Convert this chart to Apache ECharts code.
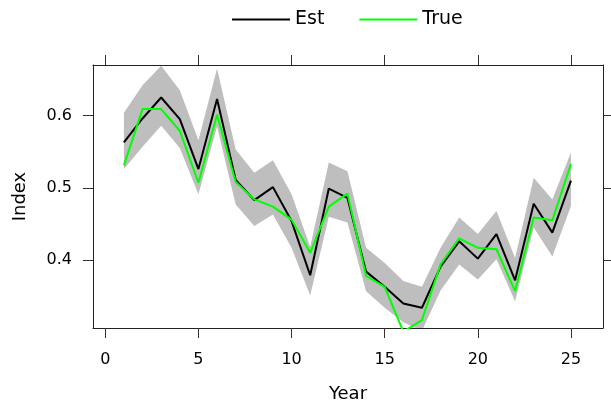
<!DOCTYPE html>
<html>
<head>
<meta charset="utf-8">
<script src="https://cdn.jsdelivr.net/npm/echarts@6/dist/echarts.min.js"></script>
<style>html,body{margin:0;padding:0;background:#fff;}#c{width:611px;height:408px;}</style>
</head>
<body>
<div id="c"></div>
<script>
const years = [1,2,3,4,5,6,7,8,9,10,11,12,13,14,15,16,17,18,19,20,21,22,23,24,25];
const est   = [0.563,0.596,0.625,0.595,0.526,0.623,0.511,0.483,0.501,0.454,0.379,0.499,0.486,0.384,0.363,0.340,0.334,0.391,0.426,0.402,0.436,0.372,0.478,0.438,0.510];
const truth = [0.531,0.609,0.609,0.579,0.507,0.601,0.508,0.484,0.474,0.456,0.410,0.474,0.492,0.378,0.363,0.301,0.317,0.394,0.430,0.417,0.415,0.357,0.459,0.455,0.533];
const upper = [0.604,0.642,0.669,0.635,0.566,0.665,0.553,0.521,0.538,0.491,0.418,0.535,0.523,0.417,0.396,0.371,0.363,0.417,0.459,0.436,0.468,0.403,0.514,0.484,0.549];
const lower = [0.526,0.557,0.586,0.555,0.491,0.585,0.477,0.447,0.463,0.417,0.351,0.460,0.452,0.357,0.334,0.314,0.302,0.358,0.394,0.373,0.401,0.343,0.445,0.405,0.475];
const xTicks = [0,5,10,15,20,25];
const yTicks = [0.4,0.5,0.6];

const FONT = 'DejaVu Sans';
const pairs = (ys) => years.map((x,i)=>[x, ys[i]]);

const axisLine = {show:true, onZero:false, lineStyle:{color:'#222', width:1}};
const xCommon = {type:'value', min:-0.66, max:26.72, splitLine:{show:false}, axisLine};
const yCommon = {type:'value', min:0.306, max:0.670, splitLine:{show:false}, axisLine};

function renderBand(params, api) {
  if (params.dataIndex !== 0) return null;
  const pts = [];
  for (let i = 0; i < years.length; i++) pts.push(api.coord([years[i], upper[i]]));
  for (let i = years.length - 1; i >= 0; i--) pts.push(api.coord([years[i], lower[i]]));
  const cs = params.coordSys;
  return {
    type:'polygon',
    shape:{points:pts},
    style:{fill:'#bebebe', stroke:null},
    clipPath:{type:'rect', shape:{x:cs.x, y:cs.y, width:cs.width, height:cs.height}}
  };
}

const chart = echarts.init(document.getElementById('c'), null, {renderer:'canvas'});
chart.setOption({
  animation:false,
  backgroundColor:'#fff',
  textStyle:{fontFamily:FONT},
  grid:{left:93, right:8, top:65, bottom:79, containLabel:false},
  legend:{
    data:['Est','True'], left:227, top:5, icon:'rect', itemWidth:58, itemHeight:2, itemGap:35,
    textStyle:{fontFamily:FONT, fontSize:19, color:'#000'}
  },
  xAxis:[
    Object.assign({}, xCommon, {position:'bottom',
      axisTick:{show:true, customValues:xTicks, length:10, lineStyle:{color:'#333'}},
      axisLabel:{show:true, customValues:xTicks, margin:24, fontSize:16, color:'#000', fontFamily:FONT},
      name:'Year', nameLocation:'middle', nameGap:57, nameTextStyle:{fontSize:18, color:'#000', fontFamily:FONT}}),
    Object.assign({}, xCommon, {position:'top',
      axisTick:{show:true, customValues:xTicks, length:10, lineStyle:{color:'#333'}},
      axisLabel:{show:false}})
  ],
  yAxis:[
    Object.assign({}, yCommon, {position:'left',
      axisTick:{show:true, customValues:yTicks, length:10, lineStyle:{color:'#333'}},
      axisLabel:{show:true, customValues:yTicks, margin:21, fontSize:16, color:'#000', fontFamily:FONT,
        formatter:(v)=>Number(v).toFixed(1)},
      name:'Index', nameLocation:'middle', nameGap:64, nameTextStyle:{fontSize:18, color:'#000', fontFamily:FONT}}),
    Object.assign({}, yCommon, {position:'right',
      axisTick:{show:true, customValues:yTicks, length:10, lineStyle:{color:'#333'}},
      axisLabel:{show:false}})
  ],
  series:[
    {name:'band', type:'custom', renderItem:renderBand, data:pairs(upper), silent:true, z:1},
    {name:'Est', type:'line', data:pairs(est), showSymbol:false, symbol:'none',
     itemStyle:{color:'#000'}, lineStyle:{color:'#000', width:2}, z:3},
    {name:'True', type:'line', data:pairs(truth), showSymbol:false, symbol:'none',
     itemStyle:{color:'#00ff00'}, lineStyle:{color:'#00ff00', width:2}, z:4}
  ]
});
</script>
</body>
</html>
